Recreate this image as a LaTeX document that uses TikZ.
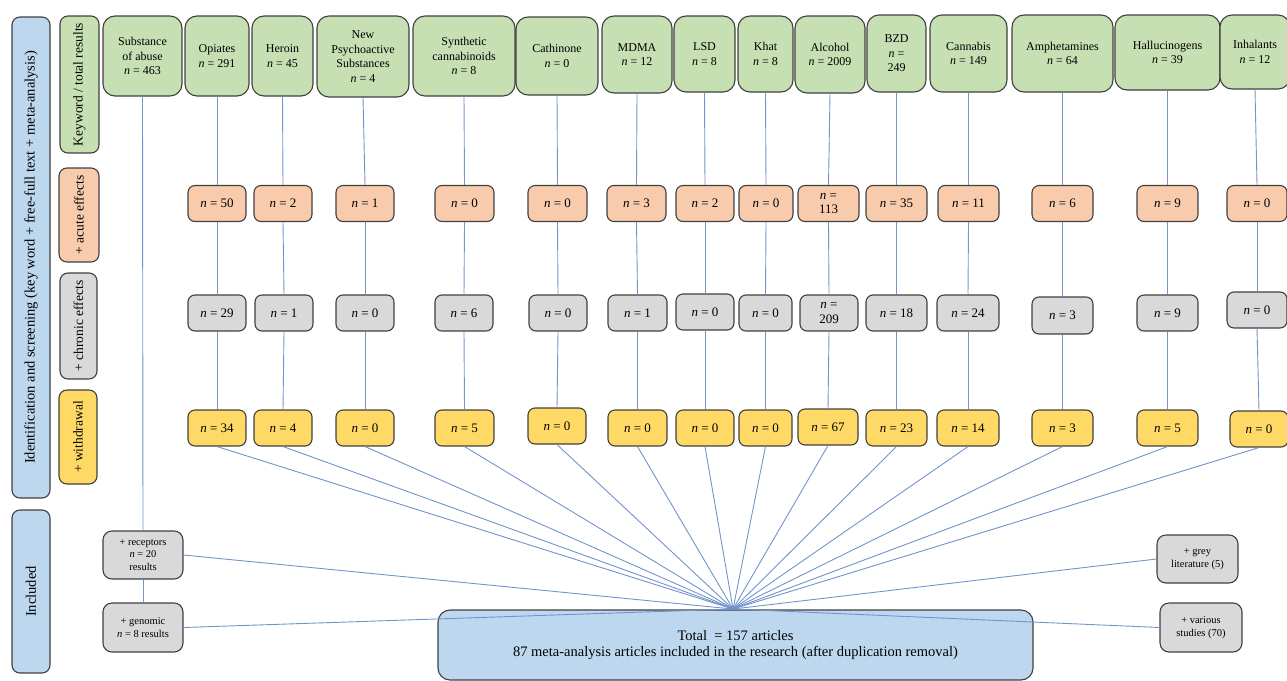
\documentclass[tikz,border=0pt]{standalone}
\usepackage{fontspec}
\setmainfont{Liberation Serif}
\definecolor{gfill}{RGB}{198,224,180}
\definecolor{ofill}{RGB}{248,203,173}
\definecolor{kfill}{RGB}{217,217,217}
\definecolor{yfill}{RGB}{255,217,102}
\definecolor{bfill}{RGB}{189,215,238}
\definecolor{edgec}{RGB}{64,64,64}
\definecolor{linkc}{RGB}{114,147,203}
\begin{document}
\begin{tikzpicture}[x=1pt,y=-1pt,
 base/.style={draw=edgec, line width=1.1pt, align=center, inner sep=1pt, text=black},
 topb/.style={base, fill=gfill, rounded corners=12pt, font=\fontsize{12}{14.5}\selectfont},
 nbox/.style={base, rounded corners=7pt, minimum height=36pt, font=\fontsize{13}{14}\selectfont},
 acb/.style={nbox, fill=ofill},
 chb/.style={nbox, fill=kfill},
 wdb/.style={nbox, fill=yfill},
 side/.style={base, rounded corners=8pt, rotate=90, font=\fontsize{13.5}{15}\selectfont},
 smallb/.style={base, fill=kfill, rounded corners=9pt, minimum width=80pt, minimum height=48pt, font=\fontsize{10.5}{12.5}\selectfont},
 link/.style={draw=linkc, line width=0.9pt}]
\useasboundingbox (0,0) rectangle (1287,680);

% side labels
\node[side, fill=bfill, minimum width=481pt, minimum height=38pt, font=\fontsize{14.5}{16}\selectfont] (idl) at (31,257.5) {Identification and screening (key word + free-full text + meta-analysis)};
\node[side, fill=bfill, minimum width=163pt, minimum height=38pt, font=\fontsize{14.5}{16}\selectfont] (incl) at (31,591.5) {Included};
\node[side, fill=gfill, minimum width=137pt, minimum height=39pt] (kwl) at (79.5,84.5) {Keyword / total results};
\node[side, fill=ofill, minimum width=94pt, minimum height=40pt] (acl) at (79,215) {+ acute effects};
\node[side, fill=kfill, minimum width=106pt, minimum height=37pt] (chl) at (78.5,326) {+ chronic effects};
\node[side, fill=yfill, minimum width=94pt, minimum height=38pt] (wdl) at (78,437) {+ withdrawal};

% top row
\node[topb, minimum width=79pt, minimum height=80pt] (sub) at (142.5,56) {Substance\\of abuse\\\textit{n} = 463};
\node[topb, minimum width=64pt, minimum height=80pt] (opiT) at (217,56) {Opiates\\\textit{n} = 291};
\node[topb, minimum width=61pt, minimum height=80pt] (herT) at (282.5,56) {Heroin\\\textit{n} = 45};
\node[topb, minimum width=92pt, minimum height=81pt] (npsT) at (363,56.5) {New\\Psychoactive\\Substances\\\textit{n} = 4};
\node[topb, minimum width=102pt, minimum height=80pt] (synT) at (464,56) {Synthetic\\cannabinoids\\\textit{n} = 8};
\node[topb, minimum width=82pt, minimum height=78pt] (catT) at (557,56) {Cathinone\\\textit{n} = 0};
\node[topb, minimum width=70pt, minimum height=77pt] (mdmT) at (637,54.5) {MDMA\\\textit{n} = 12};
\node[topb, minimum width=61pt, minimum height=76pt] (lsdT) at (704.5,54) {LSD\\\textit{n} = 8};
\node[topb, minimum width=55pt, minimum height=76pt] (khaT) at (765.5,54) {Khat\\\textit{n} = 8};
\node[topb, minimum width=70pt, minimum height=77pt] (alcT) at (830,54.5) {Alcohol\\\textit{n} = 2009};
\node[topb, minimum width=59pt, minimum height=77pt] (bzdT) at (896.5,53.5) {BZD\\\textit{n} =\\249};
\node[topb, minimum width=77pt, minimum height=77pt] (canT) at (968.5,53.5) {Cannabis\\\textit{n} = 149};
\node[topb, minimum width=101pt, minimum height=77pt] (ampT) at (1062.5,53.5) {Amphetamines\\\textit{n} = 64};
\node[topb, minimum width=105pt, minimum height=75pt] (halT) at (1167.5,52.5) {Hallucinogens\\\textit{n} = 39};
\node[topb, minimum width=70pt, minimum height=74pt] (inhT) at (1255,52) {Inhalants\\\textit{n} = 12};

% acute row
\node[acb, minimum width=58pt] (opiA) at (217,203.5) {\textit{n} = 50};
\node[acb, minimum width=58pt] (herA) at (283,203.5) {\textit{n} = 2};
\node[acb, minimum width=58pt] (npsA) at (365,203.5) {\textit{n} = 1};
\node[acb, minimum width=59pt] (synA) at (464.5,203.5) {\textit{n} = 0};
\node[acb, minimum width=59pt] (catA) at (557.5,203.5) {\textit{n} = 0};
\node[acb, minimum width=59pt] (mdmA) at (636.5,203.5) {\textit{n} = 3};
\node[acb, minimum width=58pt] (lsdA) at (705,203.5) {\textit{n} = 2};
\node[acb, minimum width=54pt] (khaA) at (766,203.5) {\textit{n} = 0};
\node[acb, minimum width=61pt, font=\fontsize{13}{14.5}\selectfont] (alcA) at (828.5,203.5) {\textit{n} =\\113};
\node[acb, minimum width=61pt] (bzdA) at (896.5,203.5) {\textit{n} = 35};
\node[acb, minimum width=61pt] (canA) at (968.5,203.5) {\textit{n} = 11};
\node[acb, minimum width=61pt] (ampA) at (1062.5,203.5) {\textit{n} = 6};
\node[acb, minimum width=61pt] (halA) at (1167.5,203.5) {\textit{n} = 9};
\node[acb, minimum width=60pt] (inhA) at (1257,203.5) {\textit{n} = 0};

% chronic row
\node[chb, minimum width=58pt] (opiC) at (217,313) {\textit{n} = 29};
\node[chb, minimum width=58pt] (herC) at (284,313) {\textit{n} = 1};
\node[chb, minimum width=58pt] (npsC) at (365,313) {\textit{n} = 0};
\node[chb, minimum width=58pt] (synC) at (464,313) {\textit{n} = 6};
\node[chb, minimum width=58pt] (catC) at (558,313) {\textit{n} = 0};
\node[chb, minimum width=59pt] (mdmC) at (637.5,313) {\textit{n} = 1};
\node[chb, minimum width=58pt] (lsdC) at (705,312) {\textit{n} = 0};
\node[chb, minimum width=53pt] (khaC) at (765.5,313) {\textit{n} = 0};
\node[chb, minimum width=58pt, font=\fontsize{13}{14.5}\selectfont] (alcC) at (829,313) {\textit{n} =\\209};
\node[chb, minimum width=61pt] (bzdC) at (896.5,313) {\textit{n} = 18};
\node[chb, minimum width=62pt] (canC) at (968,313) {\textit{n} = 24};
\node[chb, minimum width=61pt, minimum height=37pt] (ampC) at (1062.5,315.5) {\textit{n} = 3};
\node[chb, minimum width=61pt] (halC) at (1167.5,313) {\textit{n} = 9};
\node[chb, minimum width=60pt] (inhC) at (1257,310) {\textit{n} = 0};

% withdrawal row
\node[wdb, minimum width=58pt] (opiW) at (217,428) {\textit{n} = 34};
\node[wdb, minimum width=58pt] (herW) at (283,428) {\textit{n} = 4};
\node[wdb, minimum width=58pt] (npsW) at (365,428) {\textit{n} = 0};
\node[wdb, minimum width=59pt] (synW) at (464.5,428) {\textit{n} = 5};
\node[wdb, minimum width=58pt] (catW) at (557,426) {\textit{n} = 0};
\node[wdb, minimum width=59pt] (mdmW) at (637.5,428) {\textit{n} = 0};
\node[wdb, minimum width=58pt] (lsdW) at (705,428) {\textit{n} = 0};
\node[wdb, minimum width=53pt] (khaW) at (765.5,428) {\textit{n} = 0};
\node[wdb, minimum width=60pt] (alcW) at (828,427) {\textit{n} = 67};
\node[wdb, minimum width=61pt] (bzdW) at (896.5,428) {\textit{n} = 23};
\node[wdb, minimum width=62pt] (canW) at (968,428) {\textit{n} = 14};
\node[wdb, minimum width=61pt] (ampW) at (1062.5,428) {\textit{n} = 3};
\node[wdb, minimum width=61pt] (halW) at (1167.5,428) {\textit{n} = 5};
\node[wdb, minimum width=58pt] (inhW) at (1259,429) {\textit{n} = 0};

% bottom
\node[smallb] (rec) at (143,555) {+ receptors\\\textit{n} = 20\\results};
\node[smallb, minimum height=49pt] (gen) at (143,627.5) {+ genomic\\\textit{n} = 8 results};
\node[smallb, minimum width=81pt] (grey) at (1197.5,559) {+ grey\\literature (5)};
\node[smallb, minimum width=82pt, minimum height=49pt] (var) at (1201,627.5) {+ various\\studies (70)};
\node[base, fill=bfill, rounded corners=12pt, minimum width=595pt, minimum height=70pt, font=\fontsize{14.5}{16.5}\selectfont] (tot) at (735.5,645) {Total\ \ = 157 articles\\87 meta-analysis articles included in the research (after duplication removal)};

\coordinate (F) at (733,609);

% connectors
\foreach \col in {opi,her,nps,syn,cat,mdm,lsd,kha,alc,bzd,can,amp,hal,inh}{
  \draw[link] (\col T.south) -- (\col A.north);
  \draw[link] (\col A.south) -- (\col C.north);
  \draw[link] (\col C.south) -- (\col W.north);
  \draw[link] (\col W.south) -- (F);
}
\draw[link] (sub.south) -- (rec.north);
\draw[link] (rec.south) -- (gen.north);
\draw[link] (rec.east) -- (F);
\draw[link] (gen.east) -- (F);
\draw[link] (grey.west) -- (F);
\draw[link] (var.west) -- (F);
\end{tikzpicture}
\end{document}
